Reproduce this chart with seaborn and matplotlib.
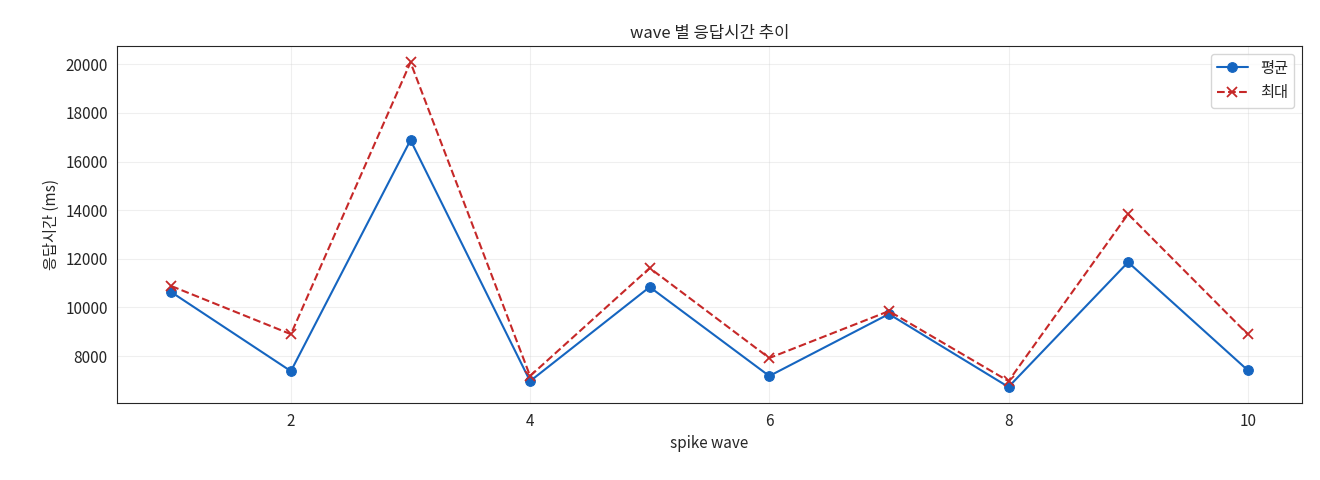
import matplotlib
matplotlib.use("Agg")
import matplotlib.pyplot as plt
import seaborn as sns
import pandas as pd

waves = [1, 2, 3, 4, 5, 6, 7, 8, 9, 10]
avg_ms = [10630, 7380, 16880, 6970, 10840, 7180, 9730, 6730, 11860, 7420]
max_ms = [10880, 8900, 20080, 7180, 11620, 7920, 9850, 6970, 13840, 8900]

sns.set_style("white")
plt.rcParams['font.family'] = ['Noto Sans CJK KR', 'DejaVu Sans']
plt.rcParams['font.size'] = 11

df = pd.DataFrame({"wave": waves, "avg": avg_ms, "max": max_ms})
fig, ax = plt.subplots(figsize=(13.2, 4.8), dpi=100)
sns.lineplot(data=df, x="wave", y="avg", ax=ax, color="#1565c0", marker="o",
             markersize=7, markeredgecolor="#1565c0", label="평균")
sns.lineplot(data=df, x="wave", y="max", ax=ax, color="#c62828", marker="x",
             markersize=7, markeredgecolor="#c62828", markeredgewidth=1.3,
             linestyle="--", label="최대")
ax.set_title("wave 별 응답시간 추이", fontsize=12)
ax.set_xlabel("spike wave")
ax.set_ylabel("응답시간 (ms)")
ax.grid(True, alpha=0.3)
ax.legend(loc="upper right")
fig.subplots_adjust(left=0.089, right=0.986, top=0.904, bottom=0.16)
fig.savefig("out.png")
